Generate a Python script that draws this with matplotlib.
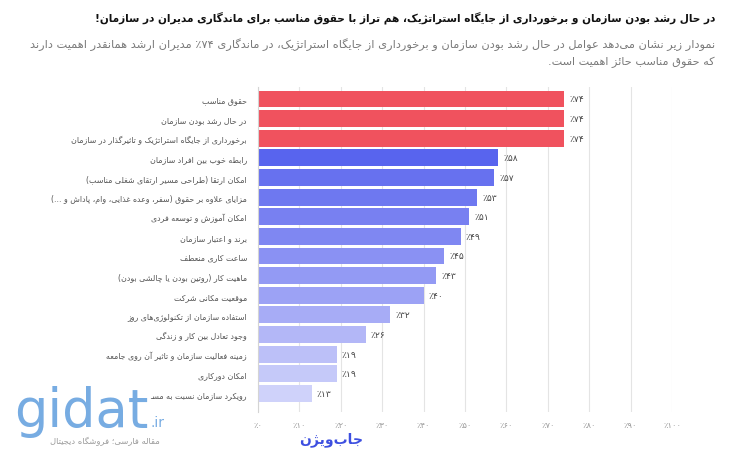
import matplotlib.pyplot as plt

plt.rcParams['font.family'] = ['DejaVu Sans']

# ---- data ----
title = "در حال رشد بودن سازمان و برخورداری از جایگاه استراتژیک، هم تراز با حقوق مناسب برای ماندگاری مدیران در سازمان!"
subtitle_1 = "نمودار زیر نشان می\u200cدهد عوامل در حال رشد بودن سازمان و برخورداری از جایگاه استراتژیک، در ماندگاری ۷۴٪ مدیران ارشد همانقدر اهمیت دارند"
subtitle_2 = "که حقوق مناسب حائز اهمیت است."

labels = [
    "حقوق مناسب",
    "در حال رشد بودن سازمان",
    "برخورداری از جایگاه استراتژیک و تاثیرگذار در سازمان",
    "رابطه خوب بین افراد سازمان",
    "امکان ارتقا (طراحی مسیر ارتقای شغلی مناسب)",
    "مزایای علاوه بر حقوق (سفر، وعده غذایی، وام، پاداش و ...)",
    "امکان آموزش و توسعه فردی",
    "برند و اعتبار سازمان",
    "ساعت کاری منعطف",
    "ماهیت کار (روتین بودن یا چالشی بودن)",
    "موقعیت مکانی شرکت",
    "استفاده سازمان از تکنولوژی\u200cهای روز",
    "وجود تعادل بین کار و زندگی",
    "زمینه فعالیت سازمان و تاثیر آن روی جامعه",
    "امکان دورکاری",
    "رویکرد سازمان نسبت به مسـ",
]
values = [74, 74, 74, 58, 57, 53, 51, 49, 45, 43, 40, 32, 26, 19, 19, 13]
ticks = list(range(0, 101, 10))

colors = ["#F0525E", "#F0525E", "#F0525E",
          "#5864EE", "#6771EF", "#6E78F0", "#7880F1", "#7F87F2", "#8A91F3",
          "#939AF4", "#9CA2F5", "#A7ACF6", "#B3B7F7", "#BCC0F8", "#C5C9F9", "#CFD2FA"]

# ---- minimal persian shaping (matplotlib has no complex text layout) ----
F = {}
def add(ch, iso, fin, ini=None, med=None):
    F[ch] = (iso, fin, ini, med)

add('ء', 0xFE80, 0xFE80)
add('آ', 0xFE81, 0xFE82); add('أ', 0xFE83, 0xFE84); add('ؤ', 0xFE85, 0xFE86)
add('إ', 0xFE87, 0xFE88); add('ئ', 0xFE89, 0xFE8A, 0xFE8B, 0xFE8C)
add('ا', 0xFE8D, 0xFE8E); add('ب', 0xFE8F, 0xFE90, 0xFE91, 0xFE92)
add('ة', 0xFE93, 0xFE94); add('ت', 0xFE95, 0xFE96, 0xFE97, 0xFE98)
add('ث', 0xFE99, 0xFE9A, 0xFE9B, 0xFE9C); add('ج', 0xFE9D, 0xFE9E, 0xFE9F, 0xFEA0)
add('ح', 0xFEA1, 0xFEA2, 0xFEA3, 0xFEA4); add('خ', 0xFEA5, 0xFEA6, 0xFEA7, 0xFEA8)
add('د', 0xFEA9, 0xFEAA); add('ذ', 0xFEAB, 0xFEAC); add('ر', 0xFEAD, 0xFEAE)
add('ز', 0xFEAF, 0xFEB0); add('س', 0xFEB1, 0xFEB2, 0xFEB3, 0xFEB4)
add('ش', 0xFEB5, 0xFEB6, 0xFEB7, 0xFEB8); add('ص', 0xFEB9, 0xFEBA, 0xFEBB, 0xFEBC)
add('ض', 0xFEBD, 0xFEBE, 0xFEBF, 0xFEC0); add('ط', 0xFEC1, 0xFEC2, 0xFEC3, 0xFEC4)
add('ظ', 0xFEC5, 0xFEC6, 0xFEC7, 0xFEC8); add('ع', 0xFEC9, 0xFECA, 0xFECB, 0xFECC)
add('غ', 0xFECD, 0xFECE, 0xFECF, 0xFED0); add('ف', 0xFED1, 0xFED2, 0xFED3, 0xFED4)
add('ق', 0xFED5, 0xFED6, 0xFED7, 0xFED8); add('ك', 0xFED9, 0xFEDA, 0xFEDB, 0xFEDC)
add('ل', 0xFEDD, 0xFEDE, 0xFEDF, 0xFEE0); add('م', 0xFEE1, 0xFEE2, 0xFEE3, 0xFEE4)
add('ن', 0xFEE5, 0xFEE6, 0xFEE7, 0xFEE8); add('ه', 0xFEE9, 0xFEEA, 0xFEEB, 0xFEEC)
add('و', 0xFEED, 0xFEEE); add('ى', 0xFEEF, 0xFEF0)
add('ي', 0xFEF1, 0xFEF2, 0xFEF3, 0xFEF4)
add('پ', 0xFB56, 0xFB57, 0xFB58, 0xFB59); add('چ', 0xFB7A, 0xFB7B, 0xFB7C, 0xFB7D)
add('ژ', 0xFB8A, 0xFB8B); add('ک', 0xFB8E, 0xFB8F, 0xFB90, 0xFB91)
add('گ', 0xFB92, 0xFB93, 0xFB94, 0xFB95); add('ی', 0xFBFC, 0xFBFD, 0xFBFE, 0xFBFF)
F['ـ'] = (0x0640, 0x0640, 0x0640, 0x0640)
LAM_ALEF = {'آ': (0xFEF5, 0xFEF6), 'أ': (0xFEF7, 0xFEF8), 'إ': (0xFEF9, 0xFEFA), 'ا': (0xFEFB, 0xFEFC)}


def dual(ch):
    return ch in F and F[ch][2] is not None


def shape(text):
    chars = list(text)
    out = []
    i = 0
    while i < len(chars):
        ch = chars[i]
        prev_join = i > 0 and dual(chars[i - 1])
        if ch == 'ل' and i + 1 < len(chars) and chars[i + 1] in LAM_ALEF:
            iso, fin = LAM_ALEF[chars[i + 1]]
            out.append(chr(fin if prev_join else iso))
            i += 2
            continue
        if ch in F:
            iso, fin, ini, med = F[ch]
            next_join = ini is not None and i + 1 < len(chars) and chars[i + 1] in F
            if prev_join and next_join:
                out.append(chr(med))
            elif prev_join:
                out.append(chr(fin))
            elif next_join:
                out.append(chr(ini))
            else:
                out.append(chr(iso))
        elif ch != '\u200c':
            out.append(ch)
        i += 1
    return ''.join(out)


MIRROR = {'(': ')', ')': '('}
DIGITS = set('0123456789۰۱۲۳۴۵۶۷۸۹')


def rtl(text):
    s = [MIRROR.get(c, c) for c in reversed(shape(text))]
    res, run = [], []
    for c in s:
        if c in DIGITS:
            run.append(c)
        else:
            res.extend(reversed(run)); run = []
            res.append(c)
    res.extend(reversed(run))
    return ''.join(res)


def fa(n):
    return str(n).translate(str.maketrans('0123456789', '۰۱۲۳۴۵۶۷۸۹'))


# ---- figure ----
fig = plt.figure(figsize=(7.4, 4.6), dpi=100)
renderer = fig.canvas.get_renderer()


def fit_text(x, y, s, width_px, **kw):
    # shrink/grow a header line so it spans about the same width as in the reference
    t = fig.text(x, y, s, **kw)
    w = t.get_window_extent(renderer).width
    t.set_fontsize(t.get_fontsize() * width_px / w)
    return t


ax = fig.add_axes([258 / 740, 1 - 413 / 460, (672 - 258) / 740, (413 - 88) / 460])

y = list(range(len(values)))
ax.barh(y, values, height=0.86, color=colors, zorder=2)
ax.set_xlim(0, 100)
ax.set_ylim(15.95, -0.61)

ax.set_yticks(y)
ax.set_yticklabels([rtl(l) for l in labels], fontsize=5.7, color='#555555')
ax.tick_params(axis='y', length=0, pad=8)
ax.set_xticks(ticks)
ax.set_xticklabels([rtl(fa(t) + '٪') for t in ticks], fontsize=6.0, color='#9a9a9a')
ax.tick_params(axis='x', length=0, pad=6)
ax.grid(axis='x', color='#e4e4e4', lw=0.8, zorder=0)
ax.set_axisbelow(True)
for sp in ['top', 'right', 'bottom']:
    ax.spines[sp].set_visible(False)
ax.spines['left'].set_color('#d4d4d4')

for yi, v in zip(y, values):
    ax.text(v + 1.2, yi, rtl(fa(v) + '٪'), va='center', ha='left', fontsize=6.6, color='#444444')

fit_text(715 / 740, 1 - 18 / 460, rtl(title), 625, ha='right', va='center',
         fontsize=9, fontweight='bold', color='#111111')
fit_text(715 / 740, 1 - 45 / 460, rtl(subtitle_1), 680, ha='right', va='center',
         fontsize=8, color='#7a7a7a')
fig.text(715 / 740, 1 - 62 / 460, rtl(subtitle_2), ha='right', va='center',
         fontsize=8.1, color='#7a7a7a')

# logo and watermark
fig.text(331 / 740, 1 - 440 / 460, rtl("جاب\u200cویژن"), ha='center', va='center',
         fontsize=10, fontweight='bold', color='#3D4FE0')
fig.text(14 / 740, 1 - 427 / 460, "gidat", ha='left', va='baseline',
         fontsize=38, color='#4A90D9', alpha=0.75)
fig.text(150 / 740, 1 - 427 / 460, ".ir", ha='left', va='baseline',
         fontsize=10, color='#4A90D9', alpha=0.75)
fig.text(160 / 740, 1 - 442 / 460, rtl("مقاله فارسی؛ فروشگاه دیجیتال"), ha='right', va='center',
         fontsize=6, color='#8a8a8a', alpha=0.85)

fig.savefig('out.png', dpi=100)
